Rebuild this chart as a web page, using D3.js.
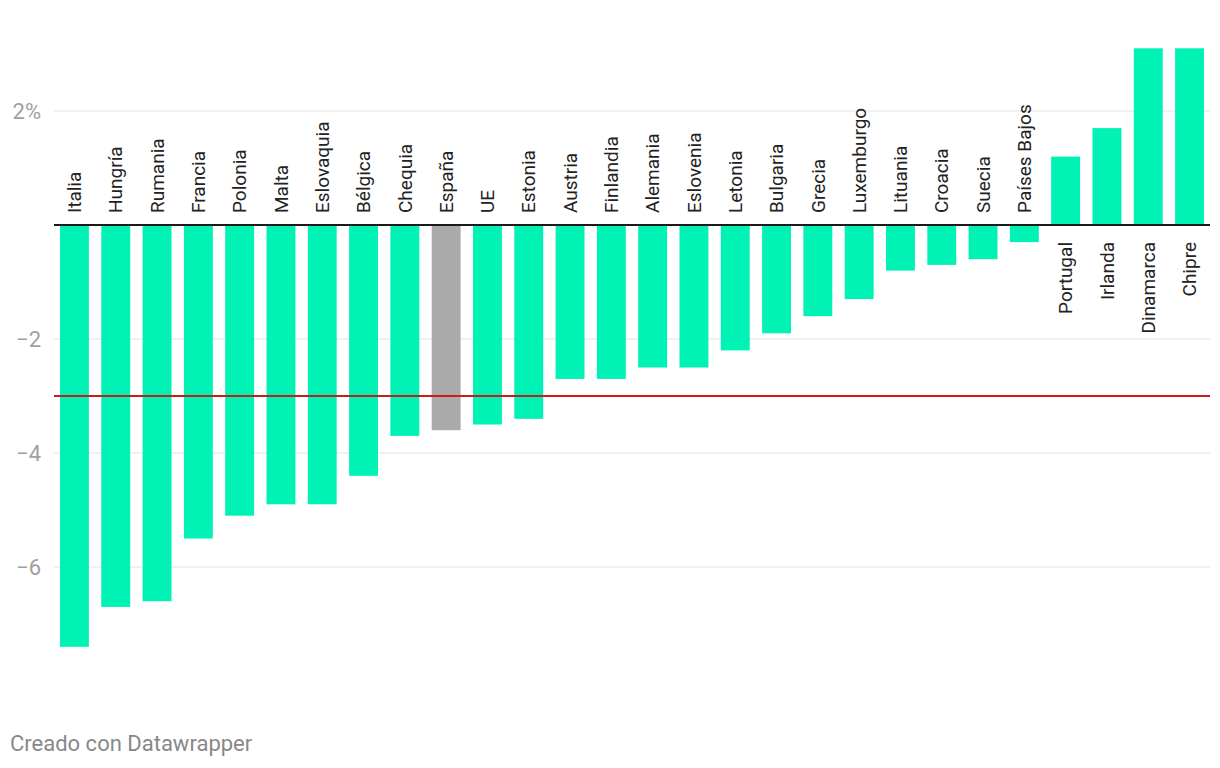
<!DOCTYPE html>
<html>
<head>
<meta charset="utf-8">
<script src="https://cdn.jsdelivr.net/npm/d3@7"></script>
<style>
  body { margin: 0; background: #fff; }
  svg { display: block; font-family: Roboto, sans-serif; }
</style>
</head>
<body>
<svg id="chart" width="1220" height="768"></svg>
<script>
// déficit público (% PIB)
var countries = ["Italia", "Hungría", "Rumania", "Francia", "Polonia", "Malta",
  "Eslovaquia", "Bélgica", "Chequia", "España", "UE", "Estonia", "Austria",
  "Finlandia", "Alemania", "Eslovenia", "Letonia", "Bulgaria", "Grecia",
  "Luxemburgo", "Lituania", "Croacia", "Suecia", "Países Bajos", "Portugal",
  "Irlanda", "Dinamarca", "Chipre"];
var values = [-7.4, -6.7, -6.6, -5.5, -5.1, -4.9, -4.9, -4.4, -3.7, -3.6, -3.5,
  -3.4, -2.7, -2.7, -2.5, -2.5, -2.2, -1.9, -1.6, -1.3, -0.8, -0.7, -0.6, -0.3,
  1.2, 1.7, 3.1, 3.1];
var highlight = ["España"];
var yTicks = [2, 0, -2, -4, -6];
var limit = -3;

var svg = d3.select("#chart");
var left = 54, right = 1210;

var x = d3.scaleBand()
  .domain(countries)
  .range([left, right])
  .paddingInner(0.3)
  .paddingOuter(0.145);

var y = d3.scaleLinear()
  .domain([0, 2])
  .range([225, 111]);

var data = countries.map(function (c, i) { return { name: c, value: values[i] }; });

// grid
svg.append("g")
  .selectAll("line")
  .data(yTicks.filter(function (d) { return d !== 0; }))
  .enter().append("line")
  .attr("x1", left).attr("x2", right)
  .attr("y1", function (d) { return y(d); })
  .attr("y2", function (d) { return y(d); })
  .attr("stroke", "#e2e2e2")
  .attr("stroke-width", 1);

// tick labels
svg.append("g")
  .selectAll("text")
  .data(yTicks.filter(function (d) { return d !== 0; }))
  .enter().append("text")
  .attr("x", 41)
  .attr("y", function (d) { return y(d); })
  .attr("dy", "0.35em")
  .attr("text-anchor", "end")
  .attr("fill", "#a0a0a0")
  .style("font-size", "22px")
  .text(function (d) { return d === 2 ? "2%" : d3.format("d")(d).replace("-", "\u2212"); });

// bars
svg.append("g")
  .selectAll("rect")
  .data(data)
  .enter().append("rect")
  .attr("x", function (d) { return x(d.name); })
  .attr("width", x.bandwidth())
  .attr("y", function (d) { return y(Math.max(0, d.value)); })
  .attr("height", function (d) { return Math.abs(y(d.value) - y(0)); })
  .attr("fill", function (d) { return highlight.indexOf(d.name) > -1 ? "#aaaaaa" : "#00f2b4"; });

// zero line
svg.append("line")
  .attr("x1", left).attr("x2", right)
  .attr("y1", y(0)).attr("y2", y(0))
  .attr("stroke", "#1a1a1a")
  .attr("stroke-width", 2);

// reference line
svg.append("line")
  .attr("x1", left).attr("x2", right)
  .attr("y1", y(limit)).attr("y2", y(limit))
  .attr("stroke", "#c71e1d")
  .attr("stroke-width", 2);

// country labels
svg.append("g")
  .selectAll("text")
  .data(data)
  .enter().append("text")
  .attr("transform", function (d) {
    var cx = x(d.name) + x.bandwidth() / 2;
    var ty = d.value < 0 ? y(0) - 12 : y(0) + 17;
    return "translate(" + cx + "," + ty + ") rotate(-90)";
  })
  .attr("text-anchor", function (d) { return d.value < 0 ? "start" : "end"; })
  .attr("dy", "0.35em")
  .attr("fill", "#222")
  .style("font-size", "19px")
  .text(function (d) { return d.name; });

// footer
svg.append("text")
  .attr("x", 10)
  .attr("y", 751)
  .attr("fill", "#888")
  .style("font-size", "22px")
  .text("Creado con Datawrapper");
</script>
</body>
</html>
